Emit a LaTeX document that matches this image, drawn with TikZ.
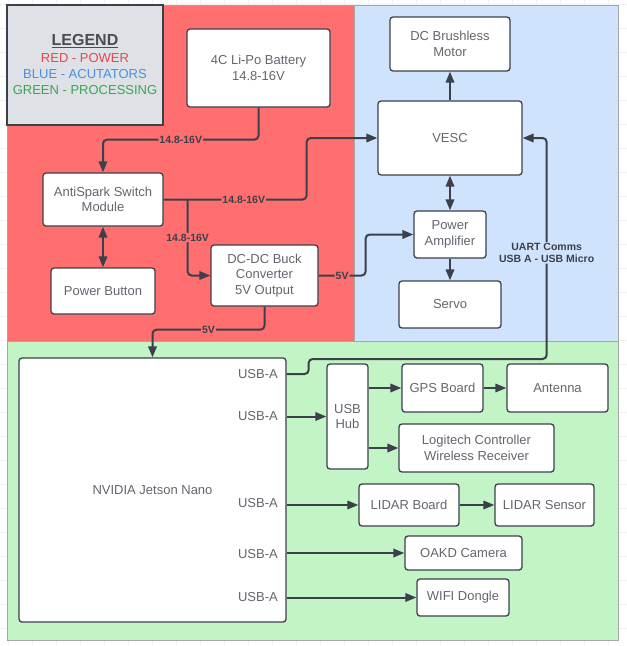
\documentclass[tikz,border=0pt]{standalone}
\usepackage{fontspec}
\setmainfont{Liberation Sans}
\usepackage{tikz}
\usetikzlibrary{arrows.meta, calc}

\definecolor{redreg}{HTML}{FF6F6F}
\definecolor{bluereg}{HTML}{CFE3FD}
\definecolor{greenreg}{HTML}{C3F4C6}
\definecolor{legfill}{HTML}{DEE1E6}
\definecolor{linec}{HTML}{3B404B}
\definecolor{textc}{HTML}{62666E}
\definecolor{gridc}{HTML}{F1F1F1}
\definecolor{legred}{HTML}{E9474B}
\definecolor{legblue}{HTML}{4A90E2}
\definecolor{leggreen}{HTML}{3AA651}

\tikzset{
	blk/.style={draw=linec, fill=white, rounded corners=3pt, line width=1.3pt, text=textc,
		align=center, inner sep=2pt, font=\fontsize{13}{15.5}\selectfont},
	tip/.tip={Triangle[length=11pt,width=8.5pt]},
	conn/.style={draw=linec, line width=2pt, rounded corners=4pt, arrows={-tip}},
	biconn/.style={conn, arrows={tip-tip}},
	lbl/.style={font=\fontsize{10.5}{12}\selectfont\bfseries, text=linec, inner sep=1pt},
	port/.style={text=textc, font=\fontsize{13}{15}\selectfont, inner sep=0pt, anchor=east}
}

\begin{document}
\begin{tikzpicture}[x=1pt, y=-1pt]
	\useasboundingbox (0,0) rectangle (627,646);
	\foreach \gx in {8,32,...,620} \draw[gridc, line width=0.6pt] (\gx,0) -- (\gx,646);
	\foreach \gy in {4,28,...,644} \draw[gridc, line width=0.6pt] (0,\gy) -- (627,\gy);

	% regions
	\draw[fill=redreg, draw=gray!70] (7,5) rectangle (354,341);
	\draw[fill=bluereg, draw=gray!70] (354,5) rectangle (618,341);
	\draw[fill=greenreg, draw=gray!70] (7,341) rectangle (618,640);
	\draw[fill=legfill, draw=linec, line width=1.5pt] (7,5) rectangle (163,125);

	\node[font=\fontsize{16}{18}\selectfont\bfseries, text=textc!75!black] (legtitle) at (85,41) {\underline{LEGEND}};
	\node[font=\fontsize{13}{15}\selectfont, text=legred] (legr) at (85,58) {RED - POWER};
	\node[font=\fontsize{13}{15}\selectfont, text=legblue] (legb) at (85,74) {BLUE - ACUTATORS};
	\node[font=\fontsize{13}{15}\selectfont, text=leggreen] (legg) at (85,90) {GREEN - PROCESSING};

	% power
	\node[blk, minimum width=143pt, minimum height=78pt] (bat) at (258.5,68) {4C Li-Po Battery\\14.8-16V};
	\node[blk, minimum width=120pt, minimum height=53pt] (anti) at (103,199.5) {AntiSpark Switch\\Module};
	\node[blk, minimum width=104pt, minimum height=46pt] (pbtn) at (103,291) {Power Button};
	\node[blk, minimum width=107pt, minimum height=61pt] (buck) at (264.5,275.5) {DC-DC Buck\\Converter\\5V Output};

	% actuators
	\node[blk, minimum width=120pt, minimum height=54pt] (motor) at (450,44) {DC Brushless\\Motor};
	\node[blk, minimum width=144pt, minimum height=74pt] (vesc) at (450,138) {VESC};
	\node[blk, minimum width=72pt, minimum height=47pt] (pamp) at (450,234.5) {Power\\Amplifier};
	\node[blk, minimum width=102pt, minimum height=47pt] (servo) at (450,304.5) {Servo};

	% processing
	\node[blk, minimum width=267pt, minimum height=264pt] (jetson) at (152.5,490) {NVIDIA Jetson Nano};
	\node[port] (usb1) at (278,374) {USB-A};
	\node[port] (usb2) at (278,416) {USB-A};
	\node[port] (usb3) at (278,503) {USB-A};
	\node[port] (usb4) at (278,554) {USB-A};
	\node[port] (usb5) at (278,597) {USB-A};
	\node[blk, minimum width=41pt, minimum height=105pt] (hub) at (347.5,416.5) {USB\\Hub};
	\node[blk, minimum width=81pt, minimum height=48pt] (gps) at (442.5,388) {GPS Board};
	\node[blk, minimum width=101pt, minimum height=48pt] (ant) at (557.5,388) {Antenna};
	\node[blk, minimum width=155pt, minimum height=48pt] (logi) at (476.5,448) {Logitech Controller\\Wireless Receiver};
	\node[blk, minimum width=100pt, minimum height=42pt] (lidb) at (409,505) {LIDAR Board};
	\node[blk, minimum width=99pt, minimum height=42pt] (lids) at (544.5,505) {LIDAR Sensor};
	\node[blk, minimum width=117pt, minimum height=34pt] (oakd) at (463.5,553) {OAKD Camera};
	\node[blk, minimum width=92pt, minimum height=37pt] (wifi) at (463,597.5) {WIFI Dongle};

	\coordinate (split) at ($(anti.east)+(24,0)$);
	\coordinate (uart) at ($(vesc.east)+(24,0)$);

	\draw[conn] (bat.south) -- ++(0,32) -| node[lbl, fill=redreg, pos=0.25] {14.8-16V} (anti.north);
	\draw[conn] (anti.east) -- node[lbl, fill=redreg, pos=0.56] {14.8-16V} ++(143,0) |- (vesc.west);
	\draw[conn] (split) |- node[lbl, fill=redreg, pos=0.25] {14.8-16V} (buck.west);
	\draw[biconn] (anti.south) -- (pbtn.north);
	\draw[conn] (buck.east) -- node[lbl, fill=redreg] {5V} ++(47,0) |- (pamp.west);
	\draw[conn] (buck.south) -- ++(0,23) -| node[lbl, fill=redreg, pos=0.25] {5V} (jetson.north);

	\draw[conn] (vesc.north) -- (motor.south);
	\draw[biconn] (vesc.south) -- (pamp.north);
	\draw[conn] (pamp.south) -- (servo.north);

	\draw[conn] (jetson.east |- usb1) -- ++(22,0) -- ++(0,-15) -| node[lbl, fill=bluereg, align=center, pos=0.74] {UART Comms\\USB A - USB Micro} (uart) -- (vesc.east);
	\draw[conn] (jetson.east |- hub.west) -- (hub.west);
	\draw[conn] (hub.east |- gps.west) -- (gps.west);
	\draw[conn] (gps.east) -- (ant.west);
	\draw[conn] (hub.east |- logi.west) -- (logi.west);
	\draw[conn] (jetson.east |- lidb.west) -- (lidb.west);
	\draw[conn] (lidb.east) -- (lids.west);
	\draw[conn] (jetson.east |- oakd.west) -- (oakd.west);
	\draw[conn] (jetson.east |- wifi.west) -- (wifi.west);
\end{tikzpicture}
\end{document}
